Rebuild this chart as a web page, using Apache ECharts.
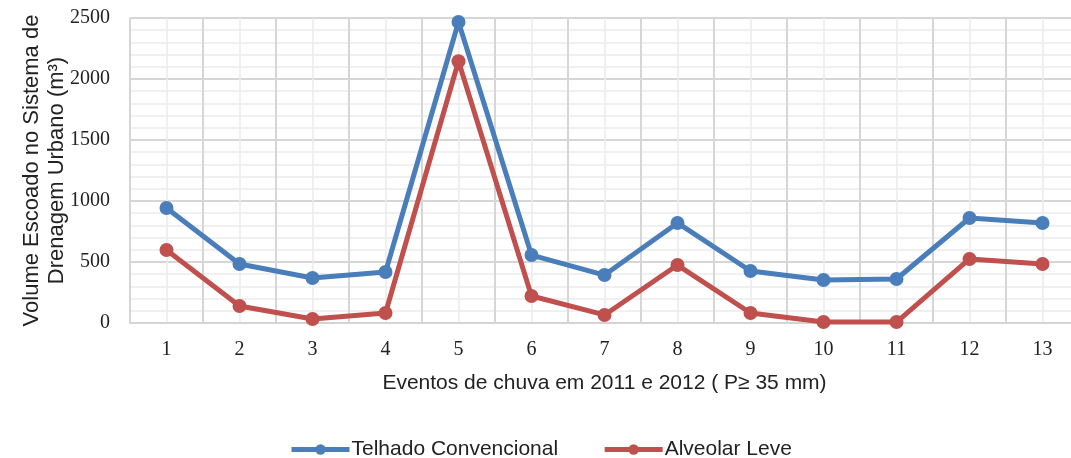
<!DOCTYPE html>
<html>
<head>
<meta charset="utf-8">
<script src="https://cdn.jsdelivr.net/npm/echarts@6/dist/echarts.min.js"></script>
<style>
html,body{margin:0;padding:0;background:#fff;overflow:hidden;width:1071px;height:458px;}
#c{width:1080px;height:458px;}
</style>
</head>
<body>
<div id="c"></div>
<script>
const categories = ['1','2','3','4','5','6','7','8','9','10','11','12','13'];
const telhadoConvencional = [943, 484, 369, 418, 2467, 557, 393, 820, 426, 352, 361, 861, 820];
const alveolarLeve = [598, 139, 33, 82, 2145, 221, 66, 475, 82, 8, 8, 525, 484];
const yTicks = { min: 0, max: 2500, interval: 500 };
const seriesNames = ['Telhado Convencional', 'Alveolar Leve'];
const axisNames = { x: 'Eventos de chuva em 2011 e 2012 ( P≥ 35 mm)', y: 'Volume Escoado no Sistema de\nDrenagem Urbano (m³)' };

const chart = echarts.init(document.getElementById('c'), null, { renderer: 'canvas' });
const serif = 'Liberation Serif';
const sans = 'Liberation Sans';
chart.setOption({
  animation: false,
  backgroundColor: '#ffffff',
  grid: { left: 130, right: 1, top: 18, bottom: 135, containLabel: false },
  legend: {
    left: 284, top: 434,
    itemWidth: 58, itemHeight: 13, itemGap: 44,
    lineStyle: { width: 5 },
    textStyle: { fontFamily: sans, fontSize: 21, color: '#222', padding: [0,0,0,-3] },
    data: seriesNames
  },
  xAxis: [{
    type: 'category',
    data: categories,
    boundaryGap: true,
    name: axisNames.x,
    nameLocation: 'middle',
    nameGap: 50,
    nameMoveOverlap: false,
    nameTextStyle: { fontFamily: sans, fontSize: 21, color: '#222' },
    axisLine: { show: true, lineStyle: { color: '#d4d4d4', width: 2 } },
    axisTick: { show: false },
    axisLabel: { fontFamily: serif, fontSize: 20, color: '#222', margin: 17 },
    splitLine: { show: true, lineStyle: { color: '#d6d6d6', width: 2 } }
  }, {
    type: 'value',
    min: 0, max: 13, interval: 1,
    position: 'bottom',
    show: true,
    axisLine: { show: false }, axisTick: { show: false }, axisLabel: { show: false },
    splitLine: { show: false },
    minorTick: { show: false, splitNumber: 2 },
    minorSplitLine: { show: true, lineStyle: { color: '#ececec', width: 1.5 } }
  }],
  yAxis: {
    type: 'value',
    min: yTicks.min, max: yTicks.max, interval: yTicks.interval,
    name: axisNames.y,
    nameLocation: 'middle',
    nameGap: 61,
    nameMoveOverlap: false,
    nameRotate: 90,
    nameTextStyle: { fontFamily: sans, fontSize: 22, color: '#222', lineHeight: 25 },
    axisLine: { show: false },
    axisTick: { show: false },
    axisLabel: { fontFamily: serif, fontSize: 20, color: '#222', margin: 20, formatter: function (v) { return String(v); } },
    splitLine: { show: true, lineStyle: { color: '#d6d6d6', width: 2 } },
    minorTick: { show: false, splitNumber: 5 },
    minorSplitLine: { show: true, lineStyle: { color: '#ececec', width: 1.5 } }
  },
  series: [{
    name: seriesNames[0],
    type: 'line',
    data: telhadoConvencional,
    symbol: 'circle', symbolSize: 14,
    lineStyle: { color: '#4a7ebb', width: 5 },
    itemStyle: { color: '#4a7ebb' },
    z: 3
  }, {
    name: seriesNames[1],
    type: 'line',
    data: alveolarLeve,
    symbol: 'circle', symbolSize: 14,
    lineStyle: { color: '#c0504d', width: 5 },
    itemStyle: { color: '#c0504d' },
    z: 4
  }]
});
</script>
</body>
</html>
